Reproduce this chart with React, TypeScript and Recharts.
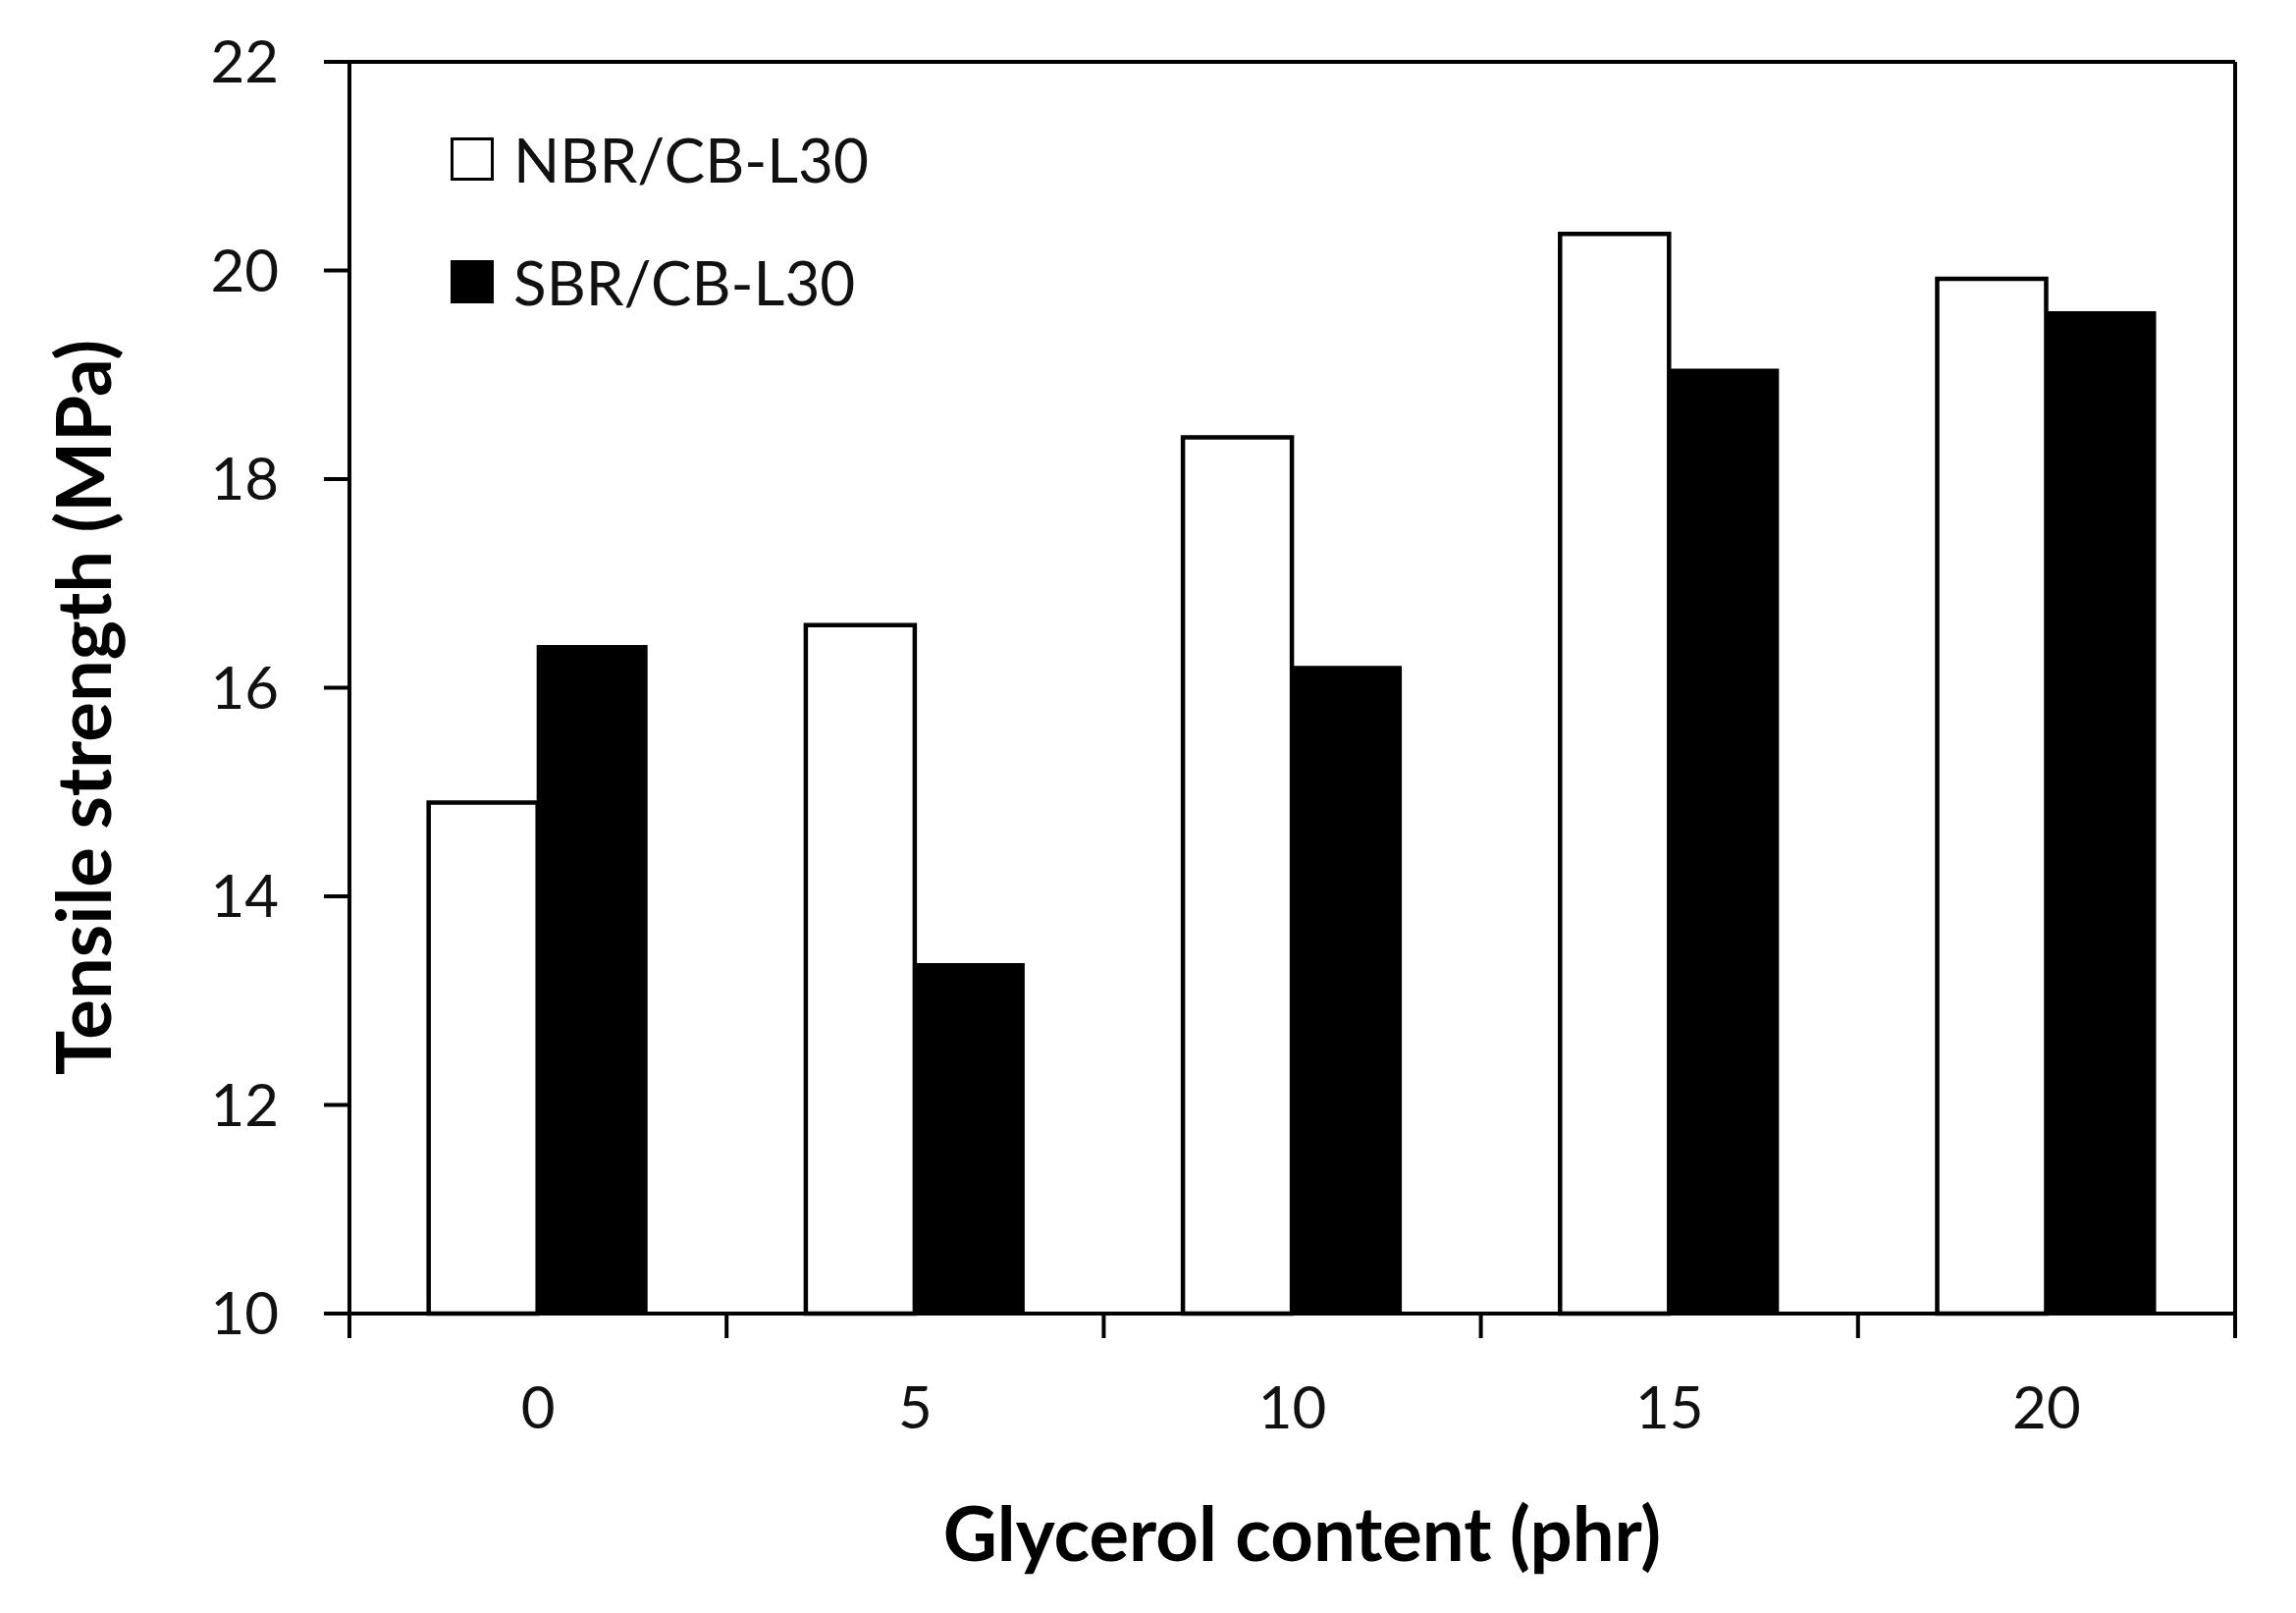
import React from 'react';
import { BarChart, Bar, XAxis, YAxis, Legend, Label } from 'recharts';

// glycerol loading (phr) on the x axis
const glycerol = ['0', '5', '10', '15', '20'];
// tensile strength, MPa
const nbrStrength = [14.9, 16.6, 18.4, 20.35, 19.92];
const sbrStrength = [16.4, 13.35, 16.2, 19.05, 19.6];
const yTicks = [10, 12, 14, 16, 18, 20, 22];

const data = glycerol.map((g, i) => ({
  phr: g,
  nbr: nbrStrength[i],
  sbr: sbrStrength[i],
}));

const FONT = 'Lato, "Open Sans", sans-serif';
const LINE = { stroke: '#000', strokeWidth: 4 };

// tick marks sit between the categories, like the original Excel plot
const XTick = (props: any) => {
  const { x, y, payload, index, visibleTicksCount } = props;
  const half = payload?.offset ?? 0;
  const last = index === visibleTicksCount - 1;
  return (
    <g>
      <line x1={x - half} y1={y} x2={x - half} y2={y + 25} {...LINE} />
      {last && <line x1={x + half} y1={y} x2={x + half} y2={y + 25} {...LINE} />}
      <text x={x} y={y + 117} textAnchor="middle" fontFamily={FONT} fontSize={60} fill="#111">
        {payload.value}
      </text>
    </g>
  );
};

const YTitle = ({ viewBox }: any) => {
  const x = viewBox.x - 43;
  const y = viewBox.y + viewBox.height / 2 + 20;
  return (
    <text
      x={x}
      y={y}
      transform={`rotate(-90, ${x}, ${y})`}
      textAnchor="middle"
      fontFamily={FONT}
      fontWeight={700}
      fontSize={76}
      fill="#000"
    >
      Tensile strength (MPa)
    </text>
  );
};

const XTitle = ({ viewBox }: any) => (
  <text
    x={viewBox.x + viewBox.width / 2 + 10}
    y={viewBox.y + 252}
    textAnchor="middle"
    fontFamily={FONT}
    fontWeight={700}
    fontSize={76}
    fill="#000"
  >
    Glycerol content (phr)
  </text>
);

const LegendBox = ({ payload }: any) => (
  <div style={{ display: 'flex', flexDirection: 'column', gap: 81 }}>
    {(payload || []).map((entry: any) => (
      <div key={entry.value} style={{ display: 'flex', alignItems: 'center', height: 44 }}>
        <span
          style={{
            width: 44,
            height: 44,
            boxSizing: 'border-box',
            border: '3px solid #000',
            background: entry.color,
          }}
        />
        <span style={{ marginLeft: 20, fontFamily: FONT, fontSize: 62, lineHeight: '44px', color: '#111' }}>
          {entry.value}
        </span>
      </div>
    ))}
  </div>
);

export default function App() {
  return (
    <div style={{ position: 'absolute', left: 0, top: 0, width: 2339, height: 1643, background: '#fff' }}>
      <BarChart
        width={2339}
        height={1643}
        data={data}
        margin={{ top: 62, right: 61, left: 156, bottom: 155 }}
        barCategoryGap="21%"
        barGap={0}
      >
        <XAxis
          dataKey="phr"
          height={150}
          axisLine={LINE}
          tickLine={false}
          tickSize={0}
          tickMargin={0}
          tick={<XTick />}
          interval={0}
        >
          <Label content={<XTitle />} />
        </XAxis>
        <XAxis
          xAxisId="top"
          orientation="top"
          dataKey="phr"
          height={1}
          tick={false}
          tickLine={false}
          axisLine={LINE}
        />
        <YAxis
          domain={[10, 22]}
          ticks={yTicks}
          width={200}
          tickSize={26}
          tickMargin={46}
          axisLine={LINE}
          tickLine={LINE}
          tick={{ fontFamily: FONT, fontSize: 60, fill: '#111' }}
        >
          <Label content={<YTitle />} />
        </YAxis>
        <YAxis
          yAxisId="right"
          orientation="right"
          domain={[10, 22]}
          width={1}
          tick={false}
          tickLine={false}
          axisLine={LINE}
        />
        <Legend
          layout="vertical"
          align="center"
          verticalAlign="middle"
          content={<LegendBox />}
          wrapperStyle={{ left: 459, top: 140, width: 'auto' }}
        />
        <Bar dataKey="nbr" name="NBR/CB-L30" fill="#fff" stroke="#000" strokeWidth={4.5} isAnimationActive={false} />
        <Bar dataKey="sbr" name="SBR/CB-L30" fill="#000" stroke="#000" strokeWidth={2} isAnimationActive={false} />
      </BarChart>
    </div>
  );
}
